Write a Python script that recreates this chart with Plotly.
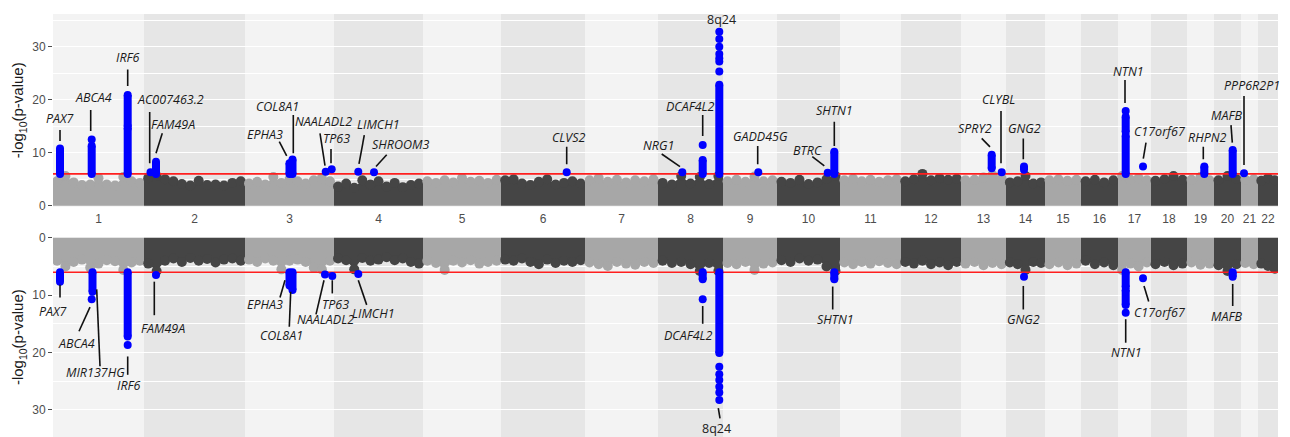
import numpy as np
import plotly.graph_objects as go

# ---------------- data ----------------
chrom_names = [str(i) for i in range(1, 23)]
# relative span of each chromosome on the genome axis
chrom_span = [91, 101, 89, 89, 78, 84, 73, 65, 54, 63, 61, 60, 45, 39, 36, 37, 33, 36, 27, 27, 17, 20]

threshold = 6.0

# upper envelope of the grey point cloud (-log10 p) per chromosome, discovery (top) panel
top_cloud = [
    [4.6, 5.6, 4.4, 3.9, 4.0, 5.2, 4.0, 3.8, 5.4, 4.6, 4.3],
    [5.2, 5.6, 5.0, 4.6, 4.1, 3.8, 4.7, 3.9, 4.0, 3.8, 4.3, 4.6],
    [4.2, 4.5, 4.0, 5.4, 4.3, 5.0, 4.6, 4.2, 4.8, 5.2, 4.6],
    [3.6, 4.2, 3.4, 4.8, 4.0, 4.6, 3.6, 4.3, 3.5, 3.9, 4.2],
    [4.6, 4.3, 4.8, 4.4, 5.2, 4.5, 4.7, 4.3, 4.9],
    [4.8, 5.0, 4.2, 3.9, 4.5, 5.0, 4.0, 4.3, 4.6, 4.2],
    [4.8, 5.2, 4.5, 4.9, 4.4, 4.8, 4.6, 5.0],
    [4.3, 4.0, 5.6, 4.2, 5.4, 4.1, 5.6],
    [4.6, 4.9, 4.5, 5.5, 4.6, 4.8],
    [4.5, 4.3, 4.9, 4.1, 4.4, 5.0, 5.6],
    [4.8, 5.1, 4.6, 4.9, 4.5, 4.8, 5.0],
    [4.6, 5.0, 6.0, 4.8, 5.2, 4.9, 5.1],
    [4.8, 4.9, 5.3, 5.8, 5.2],
    [4.4, 4.6, 5.6, 4.2, 4.4],
    [4.8, 5.0, 4.7, 4.9],
    [4.6, 4.9, 4.4, 4.8],
    [5.6, 4.9, 5.2, 4.8],
    [4.7, 5.0, 5.6, 4.9],
    [4.9, 5.4, 4.8],
    [4.8, 5.6, 5.0],
    [4.9, 5.0],
    [4.7, 5.2, 4.8],
]

# same for the replication (bottom, mirrored) panel
bottom_cloud = [
    [4.0, 5.0, 4.2, 3.8, 5.2, 4.5, 3.9, 4.1, 5.6, 4.3, 4.0],
    [4.5, 5.8, 4.0, 3.6, 4.2, 3.5, 4.0, 3.7, 4.3, 3.8, 3.6, 4.0],
    [3.8, 4.2, 3.6, 4.0, 5.5, 4.0, 3.8, 4.2, 5.2, 5.5, 4.0],
    [3.6, 3.9, 5.5, 3.5, 4.0, 3.8, 3.4, 3.9, 3.6, 4.2, 4.5],
    [4.0, 4.4, 5.6, 4.0, 4.3, 3.9, 4.5, 4.2, 4.0],
    [3.8, 4.0, 3.6, 4.2, 4.6, 3.8, 4.4, 4.0, 4.2, 3.9],
    [4.3, 4.6, 4.9, 4.2, 4.5, 4.7, 4.2, 4.4],
    [4.0, 4.4, 4.2, 4.6, 5.8, 4.4, 5.8],
    [4.4, 4.6, 4.2, 5.6, 4.5, 4.3],
    [3.9, 4.2, 3.6, 4.0, 3.8, 5.0, 5.8],
    [4.3, 4.6, 4.2, 4.5, 4.1, 4.4, 4.6],
    [4.2, 4.5, 4.0, 4.6, 4.3, 4.8, 4.2],
    [4.5, 4.2, 4.8, 4.4, 4.6],
    [4.3, 4.6, 5.6, 4.2, 4.4],
    [4.6, 4.3, 4.8, 4.5],
    [4.0, 4.6, 4.3, 4.8],
    [5.6, 4.5, 5.0, 4.3],
    [4.6, 4.2, 4.8, 4.5],
    [4.3, 4.7, 4.5],
    [4.8, 5.8, 4.6],
    [4.4, 4.6],
    [4.5, 4.9, 5.4],
]

# significant SNP stacks: (chromosome, position within chromosome, lowest, highest -log10 p)
top_stacks = [
    (1, 7.0, 6.0, 10.8), (1, 38.7, 6.0, 11.3), (1, 74.7, 6.0, 14.6), (1, 74.7, 15.0, 20.9),
    (2, 12.0, 6.0, 8.3), (3, 44.5, 6.0, 8.0), (3, 47.5, 6.0, 8.7), (8, 44.7, 6.0, 8.6),
    (8, 61.3, 6.0, 22.8), (10, 57.3, 6.0, 10.2), (13, 30.7, 7.05, 9.6), (14, 18.0, 6.8, 7.4),
    (17, 7.7, 6.0, 13.2), (17, 7.7, 13.9, 16.8), (19, 17.3, 6.0, 7.4), (20, 18.7, 6.0, 10.5),
]
# isolated significant SNPs: (chromosome, position, -log10 p)
top_snps = [
    (1, 38.7, 12.5), (2, 6.5, 6.3), (3, 80.7, 6.4), (3, 86.7, 6.9), (4, 24.3, 6.4), (4, 40.0, 6.3),
    (6, 65.7, 6.3), (8, 24.3, 6.3), (8, 44.7, 11.45),
    (8, 61.3, 25.3), (8, 61.3, 27.2), (8, 61.3, 27.8), (8, 61.3, 28.6), (8, 61.3, 30.0),
    (8, 61.3, 31.45), (8, 61.3, 32.8),
    (9, 35.3, 6.3), (10, 50.7, 6.2), (13, 40.7, 6.3), (17, 7.7, 17.85), (17, 25.0, 7.4), (21, 3.0, 6.1),
]
bottom_stacks = [
    (1, 7.0, 6.0, 7.65), (1, 39.5, 6.0, 9.4), (1, 74.7, 6.0, 17.2), (3, 44.5, 6.0, 8.3),
    (3, 47.5, 6.0, 9.1), (8, 44.7, 6.0, 7.25), (8, 61.3, 6.0, 20.1), (10, 57.3, 6.0, 7.25),
    (17, 7.7, 6.0, 8.6), (17, 7.7, 9.1, 11.7), (20, 18.7, 6.0, 6.8),
]
bottom_snps = [
    (1, 38.7, 10.7), (1, 74.7, 18.7), (2, 12.0, 6.5), (3, 80.0, 6.4), (3, 87.3, 6.65), (4, 24.3, 6.3),
    (8, 44.7, 10.7), (8, 61.3, 22.5), (8, 61.3, 23.8), (8, 61.3, 24.8), (8, 61.3, 26.0),
    (8, 61.3, 27.0), (8, 61.3, 28.3),
    (14, 18.0, 6.8), (17, 7.7, 13.06), (17, 25.0, 7.07),
]

# gene labels: text, label x, label y, leader segment (x0, y0, x1, y1) on the genome axis
top_labels = [
    ("PAX7", 7, 16.4, (7, 14.3, 7, 12.2)),
    ("ABCA4", 40.3, 20.45, (37.7, 18.05, 37.7, 14.1)),
    ("IRF6", 75.3, 28.0, (74.7, 25.7, 74.7, 22.6)),
    ("AC007463.2", 117, 20.1, (96.7, 17.7, 96.7, 8.0)),
    ("FAM49A", 120.3, 15.4, (109.3, 13.66, 103, 9.9)),
    ("COL8A1", 224.3, 18.7, (240.3, 17.1, 240.3, 9.9)),
    ("EPHA3", 212, 13.5, (226.3, 12.1, 233.7, 9.4)),
    ("NAALADL2", 270.3, 15.9, (267, 13.66, 272, 7.55)),
    ("TP63", 283.7, 12.7, (278, 10.7, 278, 8.0)),
    ("LIMCH1", 325.3, 15.4, (311.3, 13.3, 306, 7.9)),
    ("SHROOM3", 347, 11.6, (333.7, 9.6, 323, 7.4)),
    ("CLVS2", 516.3, 12.9, (513.7, 11.1, 513.7, 7.8)),
    ("NRG1", 605.3, 11.3, (608.7, 9.75, 627, 7.36)),
    ("DCAF4L2", 637.7, 18.7, (649.7, 17.1, 649.7, 13.15)),
    ("8q24", 668, 35.2, None),
    ("GADD45G", 707, 13.0, (704.7, 11.26, 704.7, 7.8)),
    ("BTRC", 754.7, 10.5, (759.3, 9.25, 771.3, 7.5)),
    ("SHTN1", 781, 18.05, (781.3, 15.85, 781.3, 11.26)),
    ("SPRY2", 922, 14.6, (928.7, 12.7, 937, 11.1)),
    ("CLYBL", 945.3, 20.1, (948, 17.87, 948, 8.0)),
    ("GNG2", 971.3, 14.5, (970.3, 12.7, 970.3, 8.75)),
    ("NTN1", 1075.3, 25.4, (1072, 23.7, 1072, 19.4)),
    ("C17orf67", 1107, 14.0, (1093, 11.9, 1090.3, 8.9)),
    ("RHPN2", 1154.7, 12.8, (1150.3, 11.1, 1150.3, 8.75)),
    ("MAFB", 1173, 17.1, (1178, 15.2, 1179.3, 11.9)),
    ("PPP6R2P1", 1198.7, 22.6, (1191, 20.7, 1191, 7.7)),
]
bottom_labels = [
    ("PAX7", 0.3, 12.9, (7, 8.2, 7, 10.4)),
    ("ABCA4", 23.7, 18.4, (26, 16.3, 37, 12.1)),
    ("MIR137HG", 42, 23.5, (47, 22.4, 43.7, 9.0)),
    ("IRF6", 76.3, 25.8, (74.7, 20.7, 74.7, 23.9)),
    ("FAM49A", 110.3, 15.8, (101.3, 7.65, 101.3, 13.5)),
    ("EPHA3", 212, 11.7, (227, 10.4, 232, 7.4)),
    ("COL8A1", 228.7, 17.0, (236.3, 15.5, 237.7, 9.4)),
    ("NAALADL2", 272, 14.3, (263, 13.35, 271, 7.4)),
    ("TP63", 282, 11.55, (279.3, 7.4, 279.3, 9.7)),
    ("LIMCH1", 320.3, 13.2, (305.3, 7.4, 313.7, 11.7)),
    ("DCAF4L2", 635.3, 17.0, (649.7, 11.9, 649.7, 15.0)),
    ("8q24", 663, 33.2, (665.3, 29.7, 667, 31.5)),
    ("SHTN1", 782, 14.2, (779.7, 8.5, 779.7, 12.5)),
    ("GNG2", 970.3, 14.2, (970.3, 8.4, 970.3, 12.5)),
    ("NTN1", 1073.7, 20.0, (1072.7, 14.2, 1072.7, 18.3)),
    ("C17orf67", 1107, 13.06, (1091, 8.4, 1095.7, 11.1)),
    ("MAFB", 1173, 13.8, (1179.7, 8.05, 1179.7, 11.9)),
]

# ---------------- styling ----------------
W, H = 1290, 437
LIGHT_PT, DARK_PT = "#a7a7a7", "#454545"
LIGHT_BG, DARK_BG = "#f3f3f3", "#e6e6e6"
BLUE = "#0000ff"
TICK_FONT = dict(family="Liberation Sans, Arial, sans-serif", size=12, color="#4d4d4d")
LABEL_FONT = dict(family="Open Sans, sans-serif", size=12.5, color="#1a1a1a")

starts = np.concatenate([[0], np.cumsum(chrom_span)[:-1]])
ends = starts + np.array(chrom_span)
mids = (starts + ends) / 2
total = float(ends[-1])

fig = go.Figure()

panels = [("x", "y", top_cloud, top_stacks, top_snps, 8),
          ("x2", "y2", bottom_cloud, bottom_stacks, bottom_snps, 8)]

for xa, ya, cloud, stacks, snps, msize in panels:
    # grey clouds
    for i, env in enumerate(cloud):
        n = len(env)
        xs = starts[i] + (np.arange(n) + 0.5) / n * chrom_span[i]
        col = LIGHT_PT if i % 2 == 0 else DARK_PT
        px = [starts[i], starts[i]] + list(xs) + [ends[i], ends[i]]
        py = [0, env[0]] + list(env) + [env[-1], 0]
        fig.add_trace(go.Scatter(x=px, y=py, xaxis=xa, yaxis=ya, mode="lines", fill="toself",
                                 fillcolor=col, line=dict(width=0, color=col),
                                 hoverinfo="skip", showlegend=False))
        fig.add_trace(go.Scatter(x=xs, y=env, xaxis=xa, yaxis=ya, mode="markers",
                                 marker=dict(size=10, color=col, line=dict(width=0)),
                                 hoverinfo="skip", showlegend=False))
    # threshold line
    fig.add_trace(go.Scatter(x=[0, total], y=[threshold, threshold], xaxis=xa, yaxis=ya,
                             mode="lines", line=dict(color="#ff1f1f", width=1.6),
                             hoverinfo="skip", showlegend=False))
    # significant stacks
    sx, sy = [], []
    for c, p, lo, hi in stacks:
        x = starts[c - 1] + p
        sx += [x, x, None]
        sy += [lo, hi, None]
    fig.add_trace(go.Scatter(x=sx, y=sy, xaxis=xa, yaxis=ya, mode="lines+markers",
                             line=dict(color=BLUE, width=msize),
                             marker=dict(size=msize, color=BLUE),
                             hoverinfo="skip", showlegend=False))
    fig.add_trace(go.Scatter(x=[starts[c - 1] + p for c, p, v in snps], y=[v for c, p, v in snps],
                             xaxis=xa, yaxis=ya, mode="markers",
                             marker=dict(size=msize, color=BLUE, line=dict(width=0)),
                             hoverinfo="skip", showlegend=False))

shapes = []
annotations = []
for ya in ("y", "y2"):
    for i in range(len(chrom_span)):
        shapes.append(dict(type="rect", xref="x" if ya == "y" else "x2", yref=f"{ya} domain",
                           x0=starts[i], x1=ends[i], y0=0, y1=1, layer="below",
                           fillcolor=LIGHT_BG if i % 2 == 0 else DARK_BG, line=dict(width=0)))

for labels, xa, ya in ((top_labels, "x", "y"), (bottom_labels, "x2", "y2")):
    for text, tx, ty, seg in labels:
        italic = text != "8q24"
        annotations.append(dict(x=tx, y=ty, xref=xa, yref=ya, showarrow=False,
                                text=f"<i>{text}</i>" if italic else text,
                                font=LABEL_FONT if italic else dict(LABEL_FONT, color="#222222"),
                                xanchor="center", yanchor="middle", borderpad=0))
        if seg is not None:
            shapes.append(dict(type="line", xref=xa, yref=ya, x0=seg[0], y0=seg[1], x1=seg[2], y1=seg[3],
                               layer="above", line=dict(color="#111111", width=1.6)))

top_dom = [1 - 206.5 / H, 1 - 14 / H]
bot_dom = [0, 1 - 237.3 / H]

yaxis_common = dict(tickvals=[0, 10, 20, 30], ticks="outside", ticklen=4, tickwidth=1,
                    tickcolor="#4d4d4d", tickfont=TICK_FONT, showgrid=True, gridcolor="white",
                    gridwidth=1.2, zeroline=False, showline=False, automargin=False,
                    minor=dict(dtick=5, tick0=0, showgrid=True, gridcolor="white", gridwidth=0.6, ticks=""),
                    title=dict(text="-log<sub>10</sub>(p-value)",
                               font=dict(family="Liberation Sans, Arial, sans-serif", size=15, color="#1a1a1a"),
                               standoff=4))

fig.update_layout(
    width=W, height=H, margin=dict(l=53, r=12, t=0, b=0, autoexpand=False),
    paper_bgcolor="white", plot_bgcolor=LIGHT_BG,
    xaxis=dict(domain=[0, 1], range=[0, total], anchor="y", tickvals=mids, ticktext=chrom_names,
               ticks="", tickfont=TICK_FONT, showgrid=False, zeroline=False, showline=False,
               automargin=False, ticklabelstandoff=3),
    xaxis2=dict(domain=[0, 1], range=[0, total], anchor="y2", matches="x", showticklabels=False,
                ticks="", showgrid=False, zeroline=False, showline=False, automargin=False),
    yaxis=dict(domain=top_dom, range=[-0.15, 36.17], anchor="x", **yaxis_common),
    yaxis2=dict(domain=bot_dom, range=[34.75, -0.09], anchor="x2", **yaxis_common),
    shapes=shapes, annotations=annotations, showlegend=False,
)

fig.write_html("out.html")
